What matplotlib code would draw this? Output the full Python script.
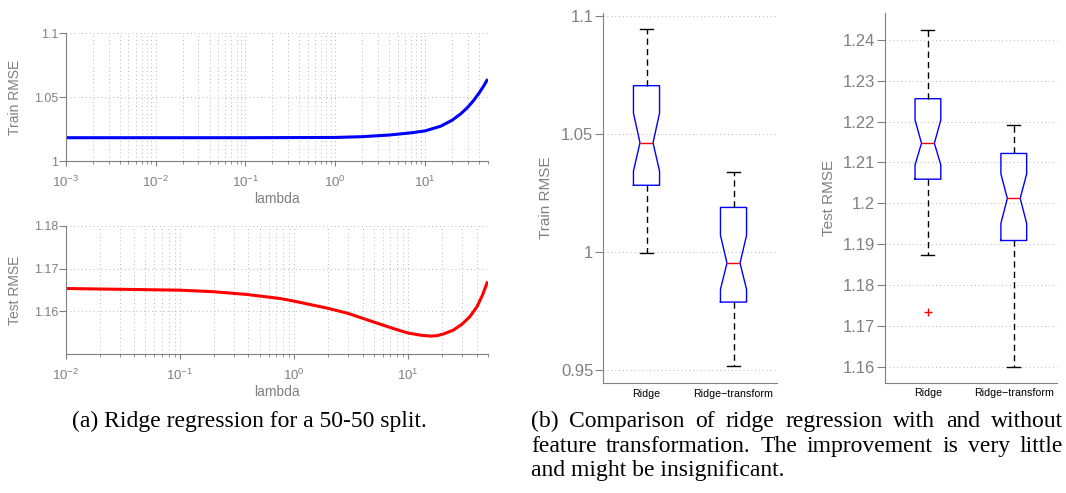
import matplotlib
matplotlib.use('Agg')
import matplotlib.pyplot as plt
from matplotlib.ticker import FuncFormatter, LogLocator, NullFormatter

W, H = 1066, 493

# ridge path, 50-50 split
lam_train = [1e-3, 1e-2, 1e-1, 1, 2, 4, 7, 10, 15, 20, 25, 30, 35, 40, 45, 50]
rmse_train = [1.0182, 1.0182, 1.0182, 1.0184, 1.0190, 1.0203, 1.0220, 1.0235,
              1.0272, 1.0318, 1.0368, 1.0420, 1.0475, 1.0530, 1.0585, 1.0640]
lam_test = [0.01, 0.1, 0.197, 0.389, 0.759, 1.0, 2.0, 3.0, 5.0, 8.0, 10.1, 13.0,
            15.7, 18.0, 20.5, 25.0, 29.8, 35.0, 40.3, 45.0, 49.9]
rmse_test = [1.16535, 1.16496, 1.1646, 1.16395, 1.1630, 1.1624, 1.1607, 1.1595,
             1.1575, 1.1557, 1.1549, 1.1544, 1.1542, 1.1543, 1.1547, 1.1556,
             1.1570, 1.1588, 1.1611, 1.1638, 1.1670]

# boxplot summaries: Ridge, Ridge-transform
box_labels = ['Ridge', 'Ridge\u2212transform']
train_whislo = [0.9994, 0.9517]
train_q1 = [1.0283, 0.9788]
train_med = [1.0463, 0.9953]
train_q3 = [1.0705, 1.0189]
train_whishi = [1.0944, 1.0339]
train_cilo = [1.0343, 0.9842]
train_cihi = [1.0589, 1.0071]
train_fliers = [[], []]

test_whislo = [1.1874, 1.1600]
test_q1 = [1.2059, 1.1909]
test_med = [1.2147, 1.2012]
test_q3 = [1.2256, 1.2122]
test_whishi = [1.2424, 1.2191]
test_cilo = [1.2094, 1.1951]
test_cihi = [1.2204, 1.2072]
test_fliers = [[1.1735], []]

GRAY = '#808080'
GRID = '#b8b8b8'
plt.rcParams['font.family'] = ['Liberation Sans', 'DejaVu Sans']
plt.rcParams['mathtext.fontset'] = 'custom'
plt.rcParams['mathtext.rm'] = 'Liberation Sans'
plt.rcParams['mathtext.default'] = 'regular'


def px_axes(fig, left, top, right, bottom):
    return fig.add_axes([left / W, 1 - bottom / H, (right - left) / W, (bottom - top) / H])


def style_axes(ax):
    for s in ['top', 'right']:
        ax.spines[s].set_visible(False)
    for s in ['left', 'bottom']:
        ax.spines[s].set_color(GRAY)
        ax.spines[s].set_linewidth(0.8)


def lambda_plot(ax, x, y, color, xlim, ylim, yticks, ylabel):
    style_axes(ax)
    ax.plot(x, y, color=color, lw=2.2, solid_capstyle='butt')
    ax.set_xscale('log')
    ax.set_xlim(*xlim)
    ax.set_ylim(*ylim)
    ax.set_yticks(yticks)
    ax.yaxis.set_major_formatter(FuncFormatter(lambda v, p: '%g' % v))
    ax.xaxis.set_major_locator(LogLocator(base=10))
    ax.xaxis.set_minor_locator(LogLocator(base=10, subs=range(2, 10)))
    ax.xaxis.set_minor_formatter(NullFormatter())
    ax.grid(True, which='both', axis='x', color=GRID, ls=(0, (1, 3)), lw=0.7)
    ax.grid(True, which='major', axis='y', color=GRID, ls=(0, (1, 3)), lw=0.7)
    ax.tick_params(axis='y', colors=GRAY, labelsize=9, length=5, pad=0.5, width=0.8)
    ax.tick_params(axis='x', which='major', colors=GRAY, labelsize=9.5, length=3.5, pad=6.5, width=0.8)
    ax.tick_params(axis='x', which='minor', colors=GRAY, length=2, width=0.6)
    ax.set_xlabel('lambda', color=GRAY, fontsize=10, va='center')
    ax.xaxis.set_label_coords(0.5, -37.5 / 128)
    ax.set_ylabel(ylabel, color=GRAY, fontsize=10, va='center')
    ax.yaxis.set_label_coords(-50.7 / 422, 0.5)


def box_panel(ax, whislo, q1, med, q3, whishi, cilo, cihi, fliers, ylim, yticks, ylabel):
    style_axes(ax)
    stats = []
    for i in range(len(box_labels)):
        stats.append(dict(label=box_labels[i], whislo=whislo[i], q1=q1[i], med=med[i],
                          q3=q3[i], whishi=whishi[i], cilo=cilo[i], cihi=cihi[i],
                          fliers=fliers[i]))
    ax.bxp(stats, positions=[1, 2], widths=0.3, shownotches=True,
           boxprops=dict(color='blue', lw=1),
           medianprops=dict(color='red', lw=1),
           whiskerprops=dict(color='black', lw=1, ls=(0, (4.5, 3))),
           capprops=dict(color='black', lw=1),
           flierprops=dict(marker='+', markeredgecolor='red', markersize=6, ls='none'))
    ax.set_xlim(0.5, 2.5)
    ax.set_ylim(*ylim)
    ax.set_yticks(yticks)
    ax.yaxis.set_major_formatter(FuncFormatter(lambda v, p: '%g' % round(v, 4)))
    ax.grid(True, axis='y', color=GRID, ls=(0, (1, 3)), lw=0.7)
    ax.tick_params(axis='y', colors=GRAY, labelsize=12, length=5.5, pad=1.5, width=0.8)
    ax.tick_params(axis='x', length=0, labelsize=7.7, labelcolor='black', pad=4)
    ax.set_ylabel(ylabel, color=GRAY, fontsize=11, va='center')
    ax.yaxis.set_label_coords(-0.325, 0.5)


def justified(fig, line, x0, x1, y, **kw):
    renderer = fig.canvas.get_renderer()
    words = line.split()
    texts = [fig.text(0, 1 - y / H, w, va='baseline', **kw) for w in words]
    widths = [t.get_window_extent(renderer).width for t in texts]
    gap = (x1 - x0 - sum(widths)) / (len(words) - 1)
    x = x0
    for t, w in zip(texts, widths):
        t.set_x(x / W)
        x += w + gap


fig = plt.figure(figsize=(W / 100, H / 100), dpi=100)

ax1 = px_axes(fig, 65.7, 33, 487.7, 161)
lambda_plot(ax1, lam_train, rmse_train, 'blue', (1e-3, 50), (1.0, 1.1), [1.0, 1.05, 1.1], 'Train RMSE')

ax2 = px_axes(fig, 65.7, 226, 487.7, 354)
lambda_plot(ax2, lam_test, rmse_test, 'red', (1e-2, 50), (1.15, 1.18), [1.16, 1.17, 1.18], 'Test RMSE')

ax3 = px_axes(fig, 603, 13, 777, 383)
box_panel(ax3, train_whislo, train_q1, train_med, train_q3, train_whishi, train_cilo,
          train_cihi, train_fliers, (0.9445, 1.1013), [0.95, 1.0, 1.05, 1.1], 'Train RMSE')

ax4 = px_axes(fig, 885, 13.3, 1056.7, 382.7)
box_panel(ax4, test_whislo, test_q1, test_med, test_q3, test_whishi, test_cilo,
          test_cihi, test_fliers, (1.1561, 1.2465),
          [1.16, 1.17, 1.18, 1.19, 1.20, 1.21, 1.22, 1.23, 1.24], 'Test RMSE')

cap = dict(family=['Liberation Serif', 'DejaVu Serif'], fontsize=17, color='black')
fig.text(72 / W, 1 - 426.7 / H, '(a) Ridge regression for a 50-50 split.', va='baseline', **cap)
justified(fig, '(b) Comparison of ridge regression with and without', 531, 1063, 426.7, **cap)
justified(fig, 'feature transformation. The improvement is very little', 531, 1063, 451.7, **cap)
fig.text(531 / W, 1 - 476 / H, 'and might be insignificant.', va='baseline', **cap)

fig.savefig('out.png', dpi=100)
